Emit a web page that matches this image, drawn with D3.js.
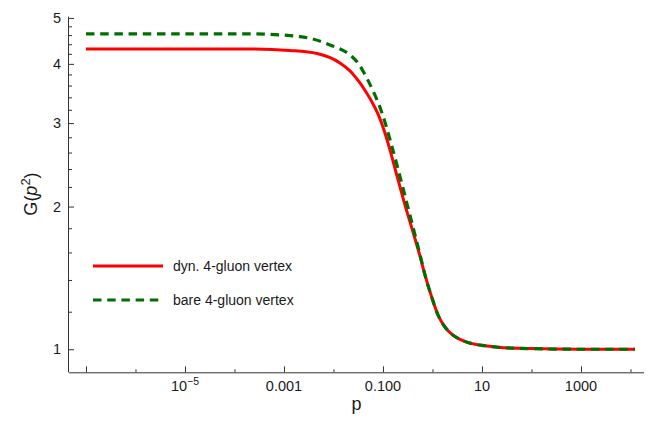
<!DOCTYPE html>
<html>
<head>
<meta charset="utf-8">
<script src="https://cdn.jsdelivr.net/npm/d3@7"></script>
<style>
  html, body { margin: 0; padding: 0; background: #fff; }
  svg { display: block; font-family: "Liberation Sans", Arial, Helvetica, sans-serif; }
</style>
</head>
<body>
<svg id="chart" width="654" height="422"></svg>
<script>
// log10(p) sample positions and G(p^2) for the dynamical four-gluon vertex
const redExp = [-7, -5, -3.687, -2.879, -2.333, -1.869, -1.626, -1.465, -1.343, -1.222, -1.101, -0.980, -0.859, -0.717, -0.556, -0.394, -0.253, -0.152, -0.010, 0.111, 0.253, 0.394, 0.556, 0.758, 1.061, 1.323, 1.970, 2.98, 4.09];
const redG   = [4.300, 4.300, 4.300, 4.269, 4.208, 4.018, 3.828, 3.646, 3.490, 3.325, 3.136, 2.901, 2.634, 2.321, 2.016, 1.768, 1.573, 1.435, 1.283, 1.181, 1.114, 1.075, 1.049, 1.030, 1.017, 1.0098, 1.003, 1.000, 1.000];

// log10(p) sample positions and G(p^2) for the bare four-gluon vertex
const greenExp = [-7, -5, -3.687, -2.677, -2.071, -1.667, -1.505, -1.329, -1.182, -1.020, -0.859, -0.697, -0.556, -0.394, -0.253, -0.152, -0.010, 0.111, 0.253, 0.394, 0.556, 0.758, 1.061, 1.323, 1.970, 2.98, 4.09];
const greenG   = [4.627, 4.627, 4.627, 4.566, 4.385, 4.177, 4.018, 3.736, 3.473, 3.151, 2.771, 2.401, 2.106, 1.811, 1.585, 1.435, 1.283, 1.181, 1.114, 1.075, 1.049, 1.030, 1.017, 1.0098, 1.003, 1.000, 1.000];

// axis ticks
const xMajorTicks = [1e-7, 1e-5, 1e-3, 1e-1, 10, 1000];
const xTickLabels = ["", "10^-5", "0.001", "0.100", "10", "1000"];
const xMinorTicks = [1e-6, 1e-4, 1e-2, 1, 100, 1e4];
const yMajorTicks = [1, 2, 3, 4, 5];
const yMinorTicks = [1.2, 1.4, 1.6, 1.8, 2.2, 2.4, 2.6, 2.8, 3.2, 3.4, 3.6, 3.8, 4.2, 4.4, 4.6, 4.8];

const seriesNames = ["dyn. 4-gluon vertex", "bare 4-gluon vertex"];

const svg = d3.select("#chart");
const plotLeft = 69, plotRight = 644, plotTop = 16.7, plotBottom = 372.3;

const x = d3.scaleLog().domain([Math.pow(10, -7.343), Math.pow(10, 4.273)]).range([plotLeft, plotRight]);
const y = d3.scaleLog().domain([0.894, 5.03]).range([plotBottom, plotTop]);

const axisColor = "#333";
const textColor = "#1a1a1a";

// x axis: major ticks with labels, minor ticks without, all pointing inward
const gx = svg.append("g").attr("transform", `translate(0,${plotBottom})`);
gx.call(d3.axisBottom(x).tickValues(xMajorTicks).tickSizeInner(-6).tickSizeOuter(0).tickPadding(0).tickFormat(() => ""));
gx.append("g").call(d3.axisBottom(x).tickValues(xMinorTicks).tickSizeInner(-3).tickSizeOuter(0).tickFormat(() => ""))
  .select(".domain").remove();
gx.selectAll("path.domain").attr("stroke", axisColor).attr("stroke-width", 1).attr("d", `M${plotLeft},0.5H${plotRight}`);
gx.selectAll(".tick line").attr("stroke", axisColor);

// x tick labels
xMajorTicks.forEach((v, i) => {
  const lab = xTickLabels[i];
  if (!lab) return;
  const t = svg.append("text")
    .attr("x", x(v)).attr("y", plotBottom + 19)
    .attr("text-anchor", "middle")
    .attr("font-size", 14.5).attr("fill", textColor);
  if (lab.includes("^")) {
    const [base, exp] = lab.split("^");
    t.append("tspan").text(base);
    t.append("tspan").attr("dy", -6).attr("font-size", 10.5).text(exp.replace("-", "\u2212"));
  } else {
    t.text(lab);
  }
});

// y axis
const gy = svg.append("g").attr("transform", `translate(${plotLeft},0)`);
gy.call(d3.axisLeft(y).tickValues(yMajorTicks).tickSizeInner(-5).tickSizeOuter(0).tickPadding(8).tickFormat(d3.format("d")));
gy.append("g").call(d3.axisLeft(y).tickValues(yMinorTicks).tickSizeInner(-3).tickSizeOuter(0).tickFormat(() => ""))
  .select(".domain").remove();
gy.selectAll("path.domain").attr("stroke", axisColor).attr("stroke-width", 1).attr("d", `M-0.5,${plotTop}V${plotBottom}`);
gy.selectAll(".tick line").attr("stroke", axisColor);
gy.selectAll(".tick text").attr("font-size", 14.5).attr("fill", textColor)
  .attr("font-family", "'Liberation Sans', Arial, sans-serif");

// axis titles
svg.append("text")
  .attr("x", (plotLeft + plotRight) / 2).attr("y", 410)
  .attr("text-anchor", "middle").attr("font-size", 18).attr("fill", textColor)
  .text("p");

const yt = svg.append("text")
  .attr("transform", "translate(37,194) rotate(-90)")
  .attr("text-anchor", "middle").attr("font-size", 18).attr("fill", textColor);
yt.append("tspan").text("G(");
yt.append("tspan").attr("font-style", "italic").text("p");
yt.append("tspan").attr("dy", -7).attr("font-size", 13).text("2");
yt.append("tspan").attr("dy", 7).text(")");

// curves
const line = d3.line()
  .x(d => x(d[0]))
  .y(d => y(d[1]))
  .curve(d3.curveMonotoneX);

const redData = redExp.map((e, i) => [Math.pow(10, e), redG[i]]);
const greenData = greenExp.map((e, i) => [Math.pow(10, e), greenG[i]]);

const red = "#ff0000";
const green = "#006f00";
const dash = "8.5,5.7";

svg.append("path").datum(redData)
  .attr("d", line).attr("fill", "none")
  .attr("stroke", red).attr("stroke-width", 3);

svg.append("path").datum(greenData)
  .attr("d", line).attr("fill", "none")
  .attr("stroke", green).attr("stroke-width", 3.2)
  .attr("stroke-dasharray", dash);

// legend
const legend = svg.append("g");
const legendItems = [
  { name: seriesNames[0], color: red, dash: null, yPos: 266 },
  { name: seriesNames[1], color: green, dash: dash, yPos: 300 }
];
legendItems.forEach(it => {
  legend.append("line")
    .attr("x1", 93).attr("x2", 163).attr("y1", it.yPos).attr("y2", it.yPos)
    .attr("stroke", it.color).attr("stroke-width", 3)
    .attr("stroke-dasharray", it.dash);
  legend.append("text")
    .attr("x", 173).attr("y", it.yPos + 5)
    .attr("font-size", 14).attr("fill", textColor)
    .text(it.name);
});
</script>
</body>
</html>
